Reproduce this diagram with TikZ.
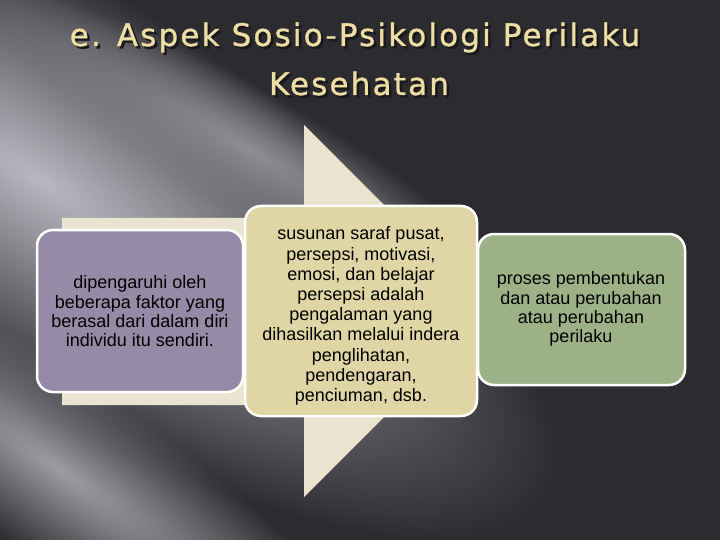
\documentclass[tikz,border=0pt]{standalone}
\usepackage{fontspec}
\setmainfont{Liberation Sans}
\newfontfamily\titlefont[LetterSpace=7,FakeBold=1]{DejaVu Sans}
\usetikzlibrary{fadings}
\definecolor{bgdark}{RGB}{44,43,47}
\definecolor{bglite}{RGB}{185,184,192}
\definecolor{arrowfill}{RGB}{234,227,207}
\definecolor{purplebox}{RGB}{150,139,167}
\definecolor{beigebox}{RGB}{224,213,164}
\definecolor{greenbox}{RGB}{157,177,135}
\definecolor{titlecol}{RGB}{236,222,164}
\definecolor{titleshade}{RGB}{25,24,26}
\tikzfading[name=softglow, inner color=transparent!0, outer color=transparent!100]
\newcommand{\shadowed}[1]{\makebox[0pt][l]{\hspace*{2.5pt}\raisebox{-2.5pt}{\textcolor{titleshade}{#1}}}#1}
\tikzset{
  infobox/.style={draw=white, line width=2.5pt, rounded corners=16pt},
  boxtext/.style={align=center, font=\fontsize{18}{19.3}\selectfont, text=black, inner sep=0pt},
  titletext/.style={font=\titlefont\fontsize{31}{36}\selectfont, text=titlecol, anchor=base, inner sep=0pt},
}
\begin{document}
\begin{tikzpicture}[x=1pt,y=-1pt]
\useasboundingbox (0,0) rectangle (720,540);
% background
\fill[bgdark] (0,0) rectangle (720,540);
\begin{scope}
\clip (0,0) rectangle (720,540);
\begin{scope}[transform canvas={rotate around={-32:(40,180)}}]
  \fill[bglite, path fading=softglow] (40,180) ellipse (600pt and 200pt);
\end{scope}
\begin{scope}[transform canvas={rotate around={-35:(60,470)}}]
  \fill[bglite!80!bgdark, path fading=softglow] (60,470) ellipse (420pt and 90pt);
\end{scope}
\begin{scope}[transform canvas={rotate around={-30:(250,150)}}]
  \fill[bglite!70!bgdark, path fading=softglow] (250,150) ellipse (300pt and 60pt);
\end{scope}
\end{scope}
% title
\node[titletext] (t1) at (355,46) {\shadowed{e. Aspek Sosio-Psikologi Perilaku}};
\node[titletext] (t2) at (359,95) {\shadowed{Kesehatan}};
% big arrow
\fill[arrowfill] (62,218) -- (304,218) -- (304,125) -- (490,311) -- (304,497) -- (304,405) -- (62,405) -- cycle;
% boxes
\filldraw[infobox, fill=purplebox] (37,230) rectangle (243,392);
\filldraw[infobox, fill=beigebox] (245,206) rectangle (477,416);
\filldraw[infobox, fill=greenbox] (478,234) rectangle (685,385);
\node[boxtext] (b1) at (140,311.5) {dipengaruhi oleh\\beberapa faktor yang\\berasal dari dalam diri\\individu itu sendiri.};
\node[boxtext, font=\fontsize{18}{20.2}\selectfont] (b2) at (361,316) {susunan saraf pusat,\\persepsi, motivasi,\\emosi, dan belajar\\persepsi adalah\\pengalaman yang\\dihasilkan melalui indera\\penglihatan,\\pendengaran,\\penciuman, dsb.};
\node[boxtext] (b3) at (581,309) {proses pembentukan\\dan atau perubahan\\atau perubahan\\perilaku};
\end{tikzpicture}
\end{document}
